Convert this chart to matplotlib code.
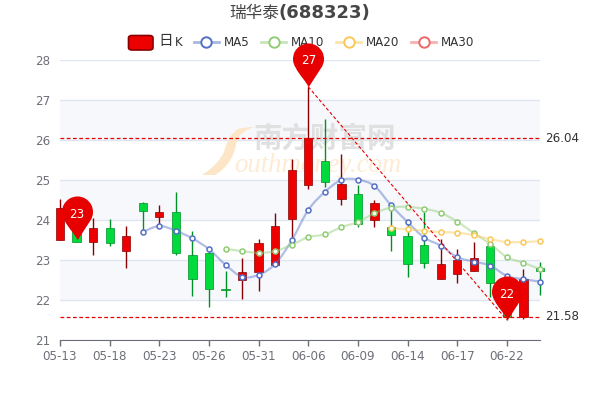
import numpy as np
import matplotlib
matplotlib.use('Agg')
import matplotlib.pyplot as plt
from matplotlib.path import Path
from matplotlib.patches import PathPatch, FancyBboxPatch
from matplotlib.lines import Line2D

CJK = ['Noto Sans CJK SC', 'DejaVu Sans']

tick_labels = ['05-13', '05-18', '05-23', '05-26', '05-31', '06-06', '06-09', '06-14', '06-17', '06-22']
open_vals = [23.50, 24.00, 23.46, 23.79, 23.22, 24.43, 24.08, 24.20, 23.12, 23.18,
             22.28, 22.50, 22.70, 22.88, 24.03, 24.87, 25.47, 24.52, 24.66, 24.01,
             23.82, 23.59, 23.37, 22.52, 22.65, 22.72, 23.34, 22.30, 21.58, 22.81]
close_vals = [24.29, 23.46, 23.79, 23.42, 23.60, 24.23, 24.21, 23.17, 22.52, 22.27,
              22.26, 22.70, 23.42, 23.85, 25.25, 26.04, 24.95, 24.90, 23.89, 24.43,
              23.62, 22.90, 22.93, 22.90, 23.00, 23.05, 22.42, 21.58, 22.53, 22.73]
high_vals = [24.52, 24.05, 24.06, 24.03, 23.85, 24.45, 24.38, 24.71, 23.72, 23.27,
             22.72, 23.04, 23.52, 24.17, 25.52, 27.33, 26.52, 25.64, 24.88, 24.50,
             24.33, 23.96, 24.21, 23.52, 23.28, 23.46, 23.50, 22.30, 22.77, 22.94]
low_vals = [23.50, 23.46, 23.12, 23.36, 22.81, 23.70, 23.85, 23.12, 22.10, 21.83,
            22.08, 22.03, 22.23, 22.88, 23.58, 24.78, 24.83, 24.37, 23.82, 23.82,
            23.23, 22.58, 22.81, 22.52, 22.42, 22.72, 22.08, 21.50, 21.52, 22.13]
ma5 = [23.70, 23.85, 23.73, 23.54, 23.27, 22.88, 22.58, 22.63, 22.90, 23.49, 24.25, 24.70,
       25.00, 25.01, 24.85, 24.37, 23.95, 23.56, 23.36, 23.07, 22.96, 22.86, 22.60, 22.52, 22.46]
ma10 = [23.28, 23.22, 23.18, 23.22, 23.38, 23.57, 23.64, 23.82, 23.95, 24.17,
        24.31, 24.33, 24.28, 24.18, 23.96, 23.67, 23.40, 23.07, 22.93, 22.77]
ma20 = [23.79, 23.77, 23.73, 23.70, 23.68, 23.62, 23.52, 23.45, 23.45, 23.47]
pin_index = [1, 15, 27]
pin_values = [23.5, 27.33, 21.5]
pin_labels = ['23', '27', '22']
mark_lines = [26.04, 21.58]

BLUE, GREEN, YELLOW, PINK = '#5470c6', '#91cc75', '#fac858', '#ee6666'


def smooth_path(xs, ys):
    # bezier through the points, like the smooth option of echarts
    pts = np.column_stack([xs, ys])
    verts, codes = [pts[0]], [Path.MOVETO]
    for i in range(len(pts) - 1):
        p0 = pts[max(i - 1, 0)]
        p1, p2 = pts[i], pts[i + 1]
        p3 = pts[min(i + 2, len(pts) - 1)]
        verts += [p1 + (p2 - p0) / 6, p2 - (p3 - p1) / 6, p2]
        codes += [Path.CURVE4] * 3
    return Path(verts, codes)


def pin_marker():
    # tip at the origin, top of the head at y=1
    r, cy = 15.5 / 44, 28.5 / 44
    arc = Path.arc(-35, 215)
    head = arc.vertices * r + [0, cy]
    verts = [[0, 0]] + [tuple(v) for v in head]
    codes = [Path.MOVETO] + [Path.LINETO] + list(arc.codes[1:])
    left = head[-1]
    verts += [(left[0] + 0.06, left[1] - 0.14), (-0.02, 0.1), (0, 0)]
    codes += [Path.CURVE4] * 3
    return Path(verts, codes)


def fig_xy(px, py):
    return px / 600, 1 - py / 400


fig = plt.figure(figsize=(6, 4), dpi=100)
ax = fig.add_axes([0.1, 0.15, 0.8, 0.7])
x = np.arange(len(open_vals))
ax.set_xlim(0, len(open_vals) - 1)
ax.set_ylim(21, 28)

# alternating bands and grid
for y0 in [26, 24, 22]:
    ax.axhspan(y0, y0 + 1, color='#f6f8fc', lw=0, zorder=0)
ax.set_yticks(range(21, 29))
ax.grid(axis='y', color='#e0e6f1', lw=1, zorder=1)
ax.set_axisbelow(True)
ax.set_xticks(x[:len(tick_labels) * 3][::3])
ax.set_xticklabels(tick_labels)
ax.tick_params(axis='x', colors='#6e7079', labelsize=8.6, length=4, width=1, pad=3)
ax.tick_params(axis='y', colors='#6e7079', labelsize=8.6, length=0, pad=7)
for side in ['top', 'left', 'right']:
    ax.spines[side].set_visible(False)
ax.spines['bottom'].set_color('#6e7079')

# watermark, below the candles
ax.text(*fig_xy(325, 139), '南方财富网', transform=fig.transFigure, family=CJK, fontsize=20.5, fontweight='bold',
        color='#e0e0e0', ha='center', va='center', zorder=2)
ax.text(*fig_xy(318, 165), 'outhmoney.com', transform=fig.transFigure, family='Liberation Serif', style='italic',
        fontsize=19.3, color='#fdebd3', ha='center', va='center', zorder=2)
swoosh = [(202, 175), (218, 165), (224, 152), (228, 135), (238, 129), (245, 127), (255, 127),
          (238, 131), (236, 145), (232, 165), (215, 175)]
ax.add_patch(PathPatch(Path([fig_xy(*p) for p in swoosh], [Path.MOVETO] + [Path.CURVE3] * 10),
                       transform=fig.transFigure, fc='#fde6c8', ec='none', zorder=2, clip_on=False))

# candles
for i in x:
    up = close_vals[i] >= open_vals[i]
    fc, ec = ('#ec0000', '#8a0000') if up else ('#00da3c', '#008f28')
    ax.vlines(i, low_vals[i], high_vals[i], color=ec, lw=1, zorder=3, clip_on=False)
    lo, hi = sorted([open_vals[i], close_vals[i]])
    ax.bar(i, hi - lo, bottom=lo, width=0.5, color=fc, edgecolor=ec, lw=0.5, zorder=4, clip_on=False)

# moving averages
for vals, col in [(ma5, BLUE), (ma10, GREEN), (ma20, YELLOW)]:
    xs = x[-len(vals):]
    ax.add_patch(PathPatch(smooth_path(xs, vals), fc='none', ec=col, lw=1.6, alpha=0.45, zorder=5, clip_on=False))
    ax.plot(xs, vals, ls='none', marker='o', ms=3.6, mfc='white', mec=col, mew=1.1, zorder=6, clip_on=False)

# mark lines
for v in mark_lines:
    ax.axhline(v, color='#e60000', lw=0.9, ls=(0, (3, 2)), zorder=6)
    ax.text(1.01, v, f'{v:.2f}', transform=ax.get_yaxis_transform(), color='#333333', fontsize=8.6, va='center')
ax.plot([x[pin_index[1]], x[pin_index[2]]], [pin_values[1], pin_values[2]],
        color='#e60000', lw=0.8, ls=(0, (3, 2)), zorder=6, clip_on=False)

# pins
pin = pin_marker()
for i, v, lab in zip(pin_index, pin_values, pin_labels):
    ax.plot([i], [v], marker=pin, ms=63.4, color='#e60000', mew=0, ls='none', zorder=7, clip_on=False)
    ax.annotate(lab, (i, v), xytext=(0, 18.7), textcoords='offset points', color='white',
                fontsize=8.6, ha='center', va='center', zorder=8)

# legend, under the axes so that the pin covers it
fig.add_artist(FancyBboxPatch(fig_xy(128.5, 50), 24.5 / 600, 14.5 / 400, boxstyle='round,pad=0,rounding_size=0.006',
                              transform=fig.transFigure, fc='#ec0000', ec='#8a0000', lw=1.2, zorder=-1))
fig.text(*fig_xy(158, 41.5), '日', family=CJK, fontsize=10.5, color='#333333', va='center', zorder=-1)
fig.text(*fig_xy(174.5, 42.5), 'K', fontsize=8.6, color='#333333', va='center', zorder=-1)
for name, col, x0 in [('MA5', BLUE, 194), ('MA10', GREEN, 261), ('MA20', YELLOW, 336), ('MA30', PINK, 411)]:
    a, b = fig_xy(x0, 42), fig_xy(x0 + 25, 42)
    fig.add_artist(Line2D([a[0], b[0]], [a[1], b[1]], transform=fig.transFigure,
                          color=col, lw=2, alpha=0.5, zorder=-1))
    fig.add_artist(Line2D([(a[0] + b[0]) / 2], [a[1]], transform=fig.transFigure, marker='o', ms=7.5,
                          mfc='white', mec=col, mew=1.4, zorder=-1))
    fig.text(*fig_xy(x0 + 30, 42.5), name, fontsize=8.6, color='#333333', va='center', zorder=-1)

# title
fig.text(*fig_xy(229, 13), '瑞华泰', family=CJK, fontsize=12, color='#464646', va='center')
fig.text(*fig_xy(278, 13), '(688323)', fontsize=13, fontweight='bold', color='#464646', va='center')

fig.savefig('out.png', dpi=100)
